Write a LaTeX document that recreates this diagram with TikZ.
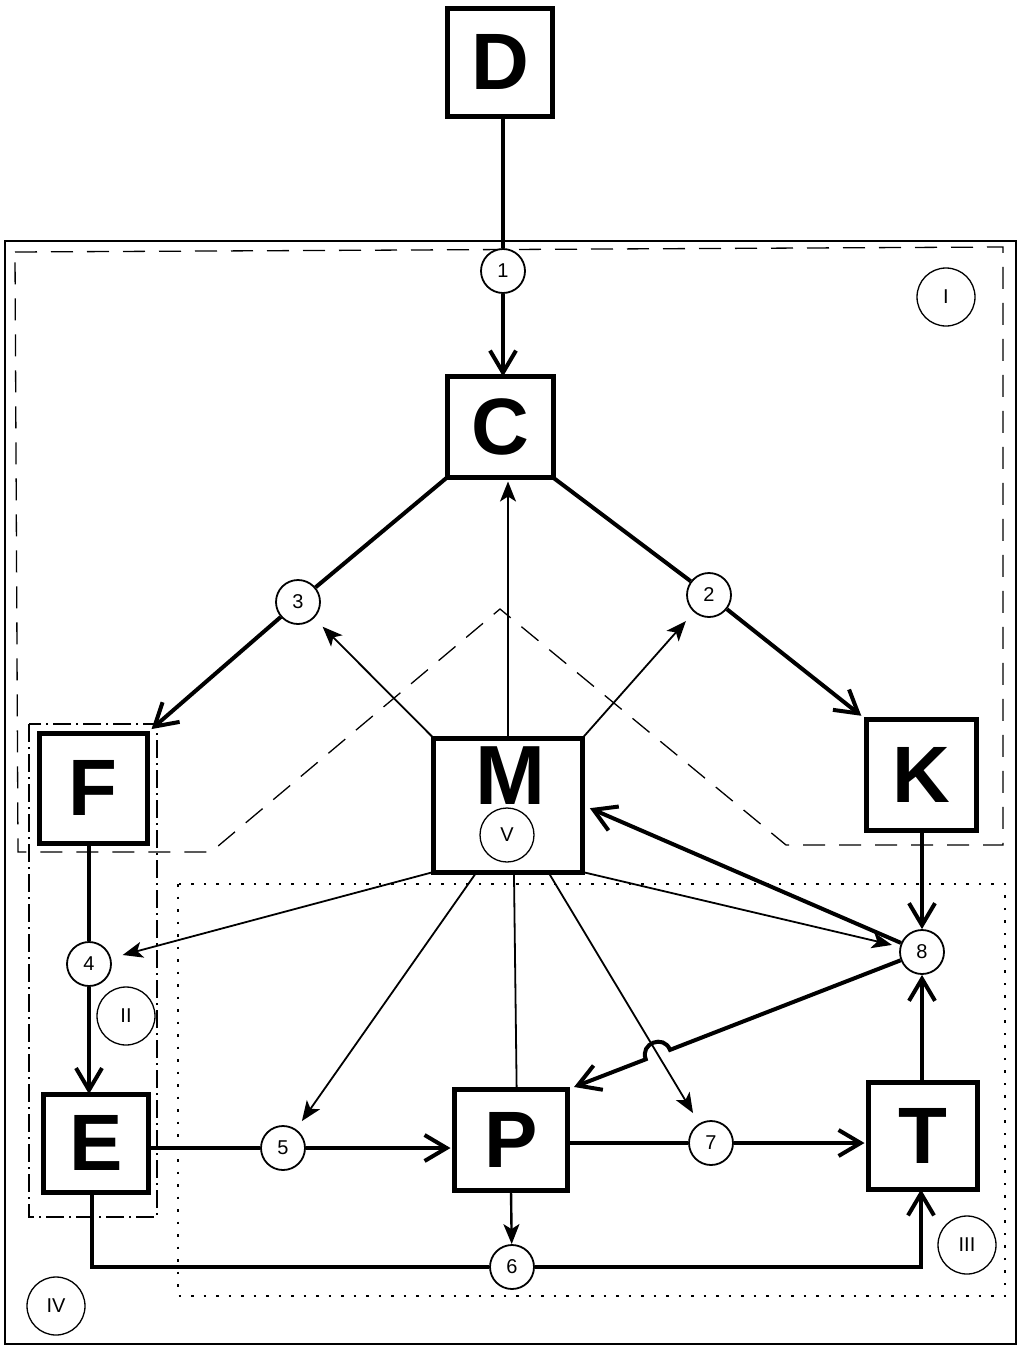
\documentclass[tikz,border=0pt]{standalone}
\usepackage{fontspec}
\setmainfont{Liberation Sans}
\usetikzlibrary{arrows.meta,calc}

\begin{document}
\begin{tikzpicture}[x=1pt,y=-1pt,
  box/.style={draw,line width=5pt,inner sep=0pt,outer sep=0pt,
    font=\bfseries\fontsize{80}{80}\selectfont},
  num/.style={draw,circle,line width=1.8pt,minimum size=44pt,inner sep=0pt,
    fill=white,font=\fontsize{20}{20}\selectfont},
  zone/.style={draw,circle,line width=1.3pt,minimum size=58pt,inner sep=0pt,
    font=\fontsize{20}{20}\selectfont},
  heavy/.style={line width=4pt},
  light/.style={line width=1.8pt},
  open/.style={-{Straight Barb[length=22pt,width=26pt]}},
  solidtip/.style={-{Stealth[length=20pt,width=16pt,inset=5pt]}},
  regionI/.style={line width=1.3pt,dash pattern=on 22pt off 14pt},
  regionII/.style={line width=1.3pt,dash pattern=on 18pt off 5pt on 2pt off 5pt},
  regionIII/.style={line width=2.2pt,dash pattern=on 2.5pt off 10pt},
]
\useasboundingbox (0,0) rectangle (1029,1349);

% frames of the five regions
\draw[line width=2.5pt] (5,241) rectangle (1016,1344);
\draw[regionI] (15,252) -- (1003,247) -- (1003,845) -- (786,845)
  -- (500,609) -- (211,852) -- (18,852) -- cycle;
\draw[regionII] (29,724) rectangle (157,1217);
\draw[regionIII] (178,884) rectangle (1005,1296);

% blocks
\node[box,minimum width=105pt,minimum height=108pt] (D) at (500,62) {D};
\node[box,minimum width=106pt,minimum height=101pt] (C) at (500,427) {C};
\node[box,minimum width=108pt,minimum height=110pt] (F) at (93,788) {F};
\node[box,minimum width=149pt,minimum height=134pt] (M) at (508,805) {};
\node[font=\bfseries\fontsize{84}{84}\selectfont,inner sep=0pt] (Mlabel) at (510,776) {M};
\node[box,minimum width=110pt,minimum height=111pt] (K) at (921,775) {K};
\node[box,minimum width=105pt,minimum height=98pt] (E) at (96,1143) {E};
\node[box,minimum width=113pt,minimum height=101pt] (P) at (511,1140) {P};
\node[box,minimum width=109pt,minimum height=107pt] (T) at (923,1136) {T};

% numbered junctions
\node[num] (n1) at (503,271) {1};
\node[num] (n2) at (709,595) {2};
\node[num] (n3) at (298,602) {3};
\node[num] (n4) at (89,964) {4};
\node[num] (n5) at (283,1148) {5};
\node[num] (n6) at (512,1267) {6};
\node[num] (n7) at (711,1143) {7};
\node[num] (n8) at (922,952) {8};

% region marks
\node[zone] (rI) at (946,297) {I};
\node[zone] (rII) at (126,1016) {II};
\node[zone] (rIII) at (967,1245) {III};
\node[zone] (rIV) at (56,1306) {IV};
\node[zone,minimum size=54pt] (rV) at (507,835) {V};

% points on the lower edge of M
\coordinate (m5) at ($(M.south west)!0.29!(M.south east)$);
\coordinate (mP) at ($(M.south west)!0.54!(M.south east)$);
\coordinate (m7) at ($(M.south west)!0.77!(M.south east)$);
\coordinate (pne) at (P.north east);

% main chain
\draw[heavy] (D.south -| n1) -- (n1);
\draw[heavy,open] (n1) -- (C.north -| n1);
\draw[heavy] (C.south west) -- (n3);
\draw[heavy,open,shorten >=6pt] (n3) -- (F.north east);
\draw[heavy] (C.south east) -- (n2);
\draw[heavy,open,shorten >=6pt] (n2) -- (K.north west);
\draw[heavy] (F.south -| n4) -- (n4);
\draw[heavy,open] (n4) -- (E.north -| n4);
\draw[heavy] (E.east |- n5) -- (n5);
\draw[heavy,open,shorten >=4pt] (n5) -- (P.west |- n5);
\draw[heavy] (P.east |- n7) -- (n7);
\draw[heavy,open,shorten >=4pt] (n7) -- (T.west |- n7);
\draw[heavy,open] (K.south -| n8) -- (n8);
\draw[heavy,open] (T.north -| n8) -- (n8);
\draw[heavy] ([xshift=-4pt]E.south) |- (n6);
\draw[heavy,open] (n6) -| ([xshift=-2pt]T.south);
\draw[line width=2.4pt,solidtip] (P.south) -- (n6);
\draw[heavy,open,shorten >=8pt] (n8) -- (M.east);

% control lines from M
\draw[light,solidtip,shorten >=4pt] (M.north) -- (M.north |- C.south);
\draw[light,solidtip,shorten >=12pt] (M.north west) -- (n3);
\draw[light,solidtip,shorten >=12pt] (M.north east) -- (n2);
\draw[light,solidtip,shorten >=12pt] (M.south west) -- (n4);
\draw[light,solidtip,shorten >=8pt] (M.south east) -- (n8);
\draw[light,solidtip,shorten >=10pt] (m5) -- (n5);
\draw[light] (mP) -- ($(P.north west)!0.55!(P.north east)$);
\draw[light,solidtip,shorten >=12pt] (m7) -- (n7);

% 8 -> P, hopping over the line m7 -- 7
\coordinate (X) at (intersection of m7--n7 and n8--pne);
\coordinate (hA) at ($(X)!13pt!(pne)$);
\coordinate (hB) at ($(X)!13pt!(n8)$);
\draw[heavy,open,shorten >=7pt] (n8) -- (hB)
  .. controls ($(hB)!17pt!-90:(hA)$) and ($(hA)!17pt!90:(hB)$) .. (hA)
  -- (pne);
\end{tikzpicture}
\end{document}
